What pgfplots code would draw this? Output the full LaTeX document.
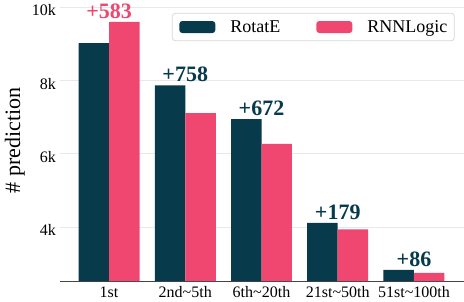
\documentclass[border=0pt]{standalone}
\usepackage{fontspec}
\setmainfont{Liberation Serif}
\usepackage{pgfplots}
\pgfplotsset{compat=1.18}
\definecolor{cDark}{HTML}{073B4C}
\definecolor{cPink}{HTML}{EF476F}
\definecolor{cGrid}{RGB}{232,232,232}
\definecolor{cAxis}{RGB}{68,68,68}
\definecolor{cLeg}{RGB}{215,215,215}
\begin{document}
\begin{tikzpicture}
\begin{axis}[
  scale only axis, width=404pt, height=281pt,
  xmin=-0.643, xmax=4.656, ymin=2530, ymax=10200,
  ybar, bar width=0.4,
  axis lines*=left,
  y axis line style={draw=none},
  x axis line style={draw=cAxis, line width=0.8pt},
  major tick length=0pt,
  xtick={0,1,2,3,4},
  xticklabels={1st, 2nd\textasciitilde 5th, 6th\textasciitilde 20th, 21st\textasciitilde 50th, 51st\textasciitilde 100th},
  ytick={4000,6000,8000,10000}, yticklabels={4k,6k,8k,10k},
  ymajorgrids, grid style={draw=cGrid, line width=0.8pt},
  /pgf/number format/assume math mode=true,
  tick label style={font=\fontsize{16}{16}\selectfont},
  xticklabel style={anchor=base, inner sep=0pt, yshift=-16pt},
  yticklabel style={anchor=east, inner sep=0pt, xshift=-4pt, yshift=-3pt},
  ylabel={\# prediction},
  ylabel style={at={(axis description cs:-0.0866,0.5)}, anchor=south, inner sep=0pt, font=\fontsize{22}{22}\selectfont},
  clip=false,
  legend columns=-1,
  legend style={at={(0.977,0.954)}, anchor=north east, draw=cLeg, rounded corners=3pt, line width=0.8pt,
    inner xsep=7pt, inner ysep=7pt, font=\fontsize{18}{18}\selectfont,
    column sep=15pt, /tikz/every even column/.append style={column sep=36pt},
    nodes={inner sep=0pt}},
  legend image code/.code={\fill[#1] (0pt,-6pt) rectangle (36pt,6pt);},
]
\addplot[ybar, bar shift=-0.2, fill=cDark, draw=none] coordinates {(0,9020) (1,7873) (2,6946) (3,4120) (4,2836)};
\addlegendentry{RotatE}
\addplot[ybar, bar shift=0.2, fill=cPink, draw=none] coordinates {(0,9603) (1,7115) (2,6274) (3,3941) (4,2750)};
\addlegendentry{RNNLogic}
\node[anchor=base, inner sep=0pt, yshift=3.5pt, text=cPink, font=\bfseries\fontsize{22}{22}\selectfont] at (axis cs:0,9603) {+583};
\node[anchor=base, inner sep=0pt, yshift=3.5pt, text=cDark, font=\bfseries\fontsize{22}{22}\selectfont] at (axis cs:1,7873) {+758};
\node[anchor=base, inner sep=0pt, yshift=3.5pt, text=cDark, font=\bfseries\fontsize{22}{22}\selectfont] at (axis cs:2,6946) {+672};
\node[anchor=base, inner sep=0pt, yshift=3.5pt, text=cDark, font=\bfseries\fontsize{22}{22}\selectfont] at (axis cs:3,4120) {+179};
\node[anchor=base, inner sep=0pt, yshift=3.5pt, text=cDark, font=\bfseries\fontsize{22}{22}\selectfont] at (axis cs:4,2836) {+86};
\end{axis}
\pgfresetboundingbox
\path (current axis.south west) ++(-60pt,-20pt) rectangle (current axis.north east);
\end{tikzpicture}
\end{document}
